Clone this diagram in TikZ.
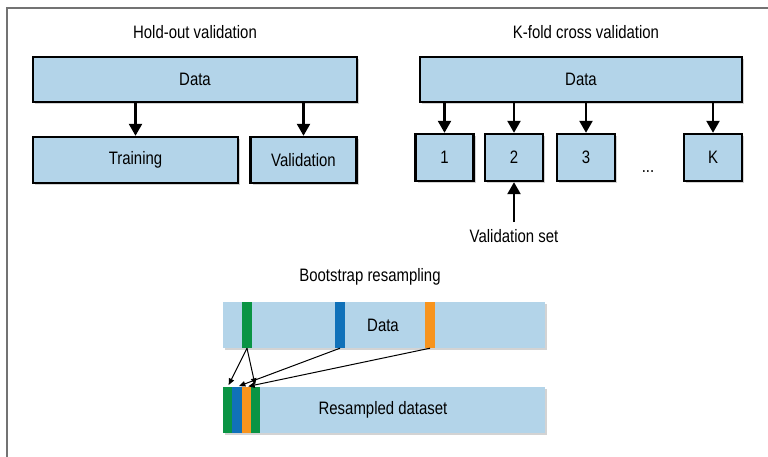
\documentclass[tikz,border=0pt]{standalone}
\usepackage{fontspec}
\setmainfont[FakeStretch=0.83]{Liberation Sans}
\usetikzlibrary{arrows.meta,shadows}
\definecolor{databg}{HTML}{B3D4E9}
\definecolor{pickgreen}{HTML}{0A9444}
\definecolor{pickblue}{HTML}{1071B9}
\definecolor{pickorange}{HTML}{F7941E}

\begin{document}
\begin{tikzpicture}[
      x=1pt, y=-1pt,
      every node/.style={font=\fontsize{18}{21}\selectfont, inner sep=0pt},
      frame/.style={draw=black!55, line width=1.6pt},
      databox/.style={rectangle, draw=black, line width=2.4pt, fill=databg, minimum height=45pt,
        drop shadow={shadow xshift=2pt, shadow yshift=-2pt, opacity=0.35}},
      bar/.style={rectangle, fill=databg, minimum width=322pt, minimum height=46pt,
        drop shadow={shadow xshift=2pt, shadow yshift=-2pt, opacity=0.35}},
      stripe/.style={rectangle, fill=#1, minimum width=9.5pt, minimum height=46pt},
      pointer/.style={line width=2.4pt, -{Triangle[width=13pt,length=12pt]}},
      pick/.style={line width=1pt, shorten >=2pt, -{Triangle[width=5.5pt,length=6.5pt]}}
      ]
      \useasboundingbox (0,0) rectangle (768,457);

      % frame round the figure (cut off at right and bottom)
      \draw[frame] (768,8) -- (7,8) -- (7,457);

      % Hold-out validation
      \node (htitle) at (195,32) {Hold-out validation};
      \node[databox, minimum width=324pt] (hdata) at (195,79.5) {Data};
      \node[databox, minimum width=205pt, minimum height=46pt] (train) at (135.5,160) {Training};
      \node[databox, minimum width=106pt, minimum height=46pt] (valid) at (303.5,160) {Validation};
      \draw[pointer] (train.north |- hdata.south) -- (train.north);
      \draw[pointer] (valid.north |- hdata.south) -- (valid.north);

      % K-fold cross validation
      \node (ktitle) at (586,32) {K-fold cross validation};
      \node[databox, minimum width=322pt] (kdata) at (581,79.5) {Data};
      \foreach \x/\name/\txt in {444.5/f1/1, 514/f2/2, 586/f3/3, 713/fk/K} {
        \node[databox, minimum width=58pt, minimum height=47pt] (\name) at (\x,157.5) {\txt};
        \draw[pointer] (\name.north |- kdata.south) -- (\name.north);
      }
      \node (dots) at (648,172) {...};
      \node (vset) at (514,236) {Validation set};
      \path (vset.north) ++(0,-7) coordinate (vfoot);
      \draw[pointer] (vfoot) -- (f2.south);

      % Bootstrap resampling
      \node (btitle) at (370,277) {Bootstrap resampling};
      \node[bar] (bdata) at (384,325) {};
      \node[stripe=pickgreen] (g1) at (247,325) {};
      \node[stripe=pickblue] (b1) at (340,325) {};
      \node[stripe=pickorange] (o1) at (430,325) {};
      \node at (383,325) {Data};

      \node[bar] (rdata) at (384,410) {};
      \node[stripe=pickgreen] (r1) at (227.75,410) {};
      \node[stripe=pickblue] (r2) at (237,410) {};
      \node[stripe=pickorange] (r3) at (246.25,410) {};
      \node[stripe=pickgreen] (r4) at (255.5,410) {};
      \node at (383,410) {Resampled dataset};

      \draw[pick] (g1.south) -- (r1.north);
      \draw[pick] (g1.south) -- (r4.north);
      \draw[pick] (b1.south) -- (r2.north);
      \draw[pick] (o1.south) -- (r3.north);
    \end{tikzpicture}
\end{document}
